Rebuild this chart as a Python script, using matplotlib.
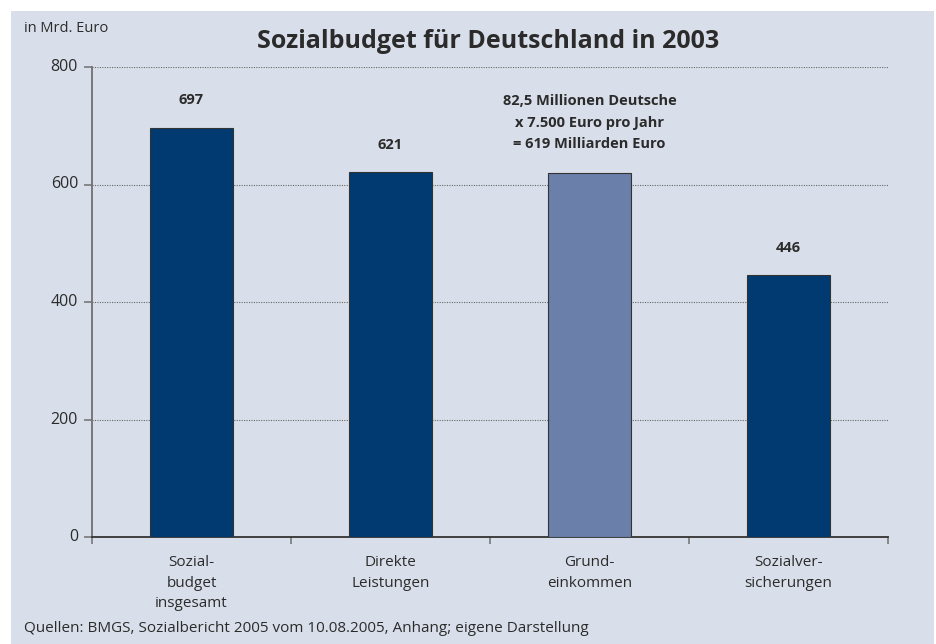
import numpy as np
import matplotlib.pyplot as plt
import matplotlib.transforms as mtransforms
from matplotlib.patches import Rectangle

plt.rcParams['font.family'] = ['Open Sans', 'DejaVu Sans']

# data
kategorien = ["Sozial-\nbudget\ninsgesamt", "Direkte\nLeistungen", "Grund-\neinkommen", "Sozialver-\nsicherungen"]
werte = [697, 621, 619, 446]
wert_labels = ["697", "621", "", "446"]
farben = ["#003a70", "#003a70", "#6a80ab", "#003a70"]
y_ticks = [0, 200, 400, 600, 800]
hinweis = "82,5 Millionen Deutsche\nx 7.500 Euro pro Jahr\n= 619 Milliarden Euro"

BG = "#d9dfea"
TXT = "#2b2b2b"
ACHSE = "#707070"

fig = plt.figure(figsize=(9.36, 6.44), dpi=100)
fig.patch.set_facecolor("white")
fig.patches.append(Rectangle((11/936, 0), (934-11)/936, (644-11)/644,
                             transform=fig.transFigure, facecolor=BG,
                             edgecolor="none", zorder=-5))

ax = fig.add_axes([92/936, (644-537)/644, (888-92)/936, (537-67)/644])
ax.set_facecolor("none")
ax.set_zorder(2)

x = np.arange(len(werte))
ax.bar(x, werte, width=0.42, color=farben, edgecolor="#333333", linewidth=0.8, zorder=3)

ax.set_xlim(-0.5, len(werte) - 0.5)
ax.set_ylim(0, 800)

# gridlines
for yt in y_ticks[1:]:
    ax.axhline(yt, color="#666666", linewidth=0.8, linestyle=(0, (1, 1.2)), zorder=1)

ax.set_yticks(y_ticks)
ax.set_yticklabels([str(t) for t in y_ticks])
ax.set_xticks(x)
ax.set_xticklabels(kategorien, linespacing=1.5)
ax.set_xticks(np.arange(len(werte) + 1) - 0.5, minor=True)
ax.tick_params(axis="x", which="major", length=0, pad=13, labelsize=11, labelcolor=TXT)
ax.tick_params(axis="x", which="minor", length=5, width=1.1, color=ACHSE, direction="out")
ax.tick_params(axis="y", length=6, width=1.1, color=ACHSE, pad=4, labelsize=11.5, labelcolor=TXT)
# y-Labels etwas über die Linie schieben
hoch = mtransforms.ScaledTranslation(0, 2/100, fig.dpi_scale_trans)
for lab in ax.get_yticklabels():
    lab.set_transform(lab.get_transform() + hoch)

for s in ["top", "right"]:
    ax.spines[s].set_visible(False)
for s in ["left", "bottom"]:
    ax.spines[s].set_color(ACHSE)
    ax.spines[s].set_linewidth(1.3)
ax.spines["bottom"].set_color("#333333")

# value labels
for i, (v, lab) in enumerate(zip(werte, wert_labels)):
    if lab:
        ax.annotate(lab, (i, v), xytext=(0, 19.5), textcoords="offset points",
                    ha="center", va="center", fontsize=10.5, fontweight="bold", color=TXT)

ax.annotate(hinweis, (2, werte[2]), xytext=(0, 36.5), textcoords="offset points",
            ha="center", va="center", fontsize=10.5, fontweight="bold", color=TXT,
            linespacing=1.65)

fig.text(488/936, 1 - 41/644, "Sozialbudget für Deutschland in 2003", ha="center", va="center",
         fontsize=18, fontweight="bold", color=TXT)
fig.text(24/936, 1 - 29/644, "in Mrd. Euro", ha="left", va="center", fontsize=10.5, color=TXT)
fig.text(24/936, 1 - 628/644, "Quellen: BMGS, Sozialbericht 2005 vom 10.08.2005, Anhang; eigene Darstellung",
         ha="left", va="center", fontsize=11, color=TXT)

fig.savefig("out.png", dpi=100, facecolor=fig.get_facecolor())
